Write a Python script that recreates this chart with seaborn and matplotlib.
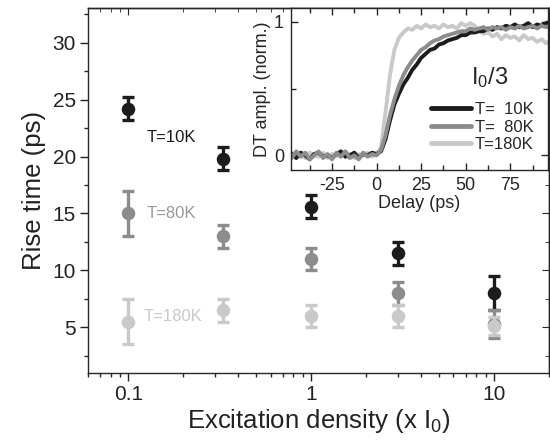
import numpy as np
import pandas as pd
import matplotlib
matplotlib.use("Agg")
import matplotlib.pyplot as plt
from matplotlib.lines import Line2D
from matplotlib.ticker import FixedLocator, NullFormatter, MultipleLocator
import seaborn as sns

# Main panel: rise time vs excitation density
density = [0.1, 0.33, 1, 3, 10]
rise_10K = [24.2, 19.8, 15.6, 11.5, 8.0]
err_10K = [1.0, 1.0, 1.0, 1.0, 1.5]
rise_80K = [15.0, 13.0, 11.0, 8.0, 5.3]
err_80K = [2.0, 1.0, 1.0, 1.0, 1.2]
rise_180K = [5.5, 6.5, 6.0, 6.0, 5.1]
err_180K = [2.0, 1.0, 1.0, 1.0, 0.8]

# Inset: normalised DT traces at I0/3
delay = [-47.5, -45.0, -42.5, -40.0, -37.5, -35.0, -32.5, -30.0, -27.5, -25.0,
         -22.5, -20.0, -17.5, -15.0, -12.5, -10.0, -7.5, -5.0, -2.5, 0.0,
         2.5, 5.0, 7.5, 10.0, 12.5, 15.0, 17.5, 20.0, 22.5, 25.0,
         27.5, 30.0, 32.5, 35.0, 37.5, 40.0, 42.5, 45.0, 47.5, 50.0,
         52.5, 55.0, 57.5, 60.0, 62.5, 65.0, 67.5, 70.0, 72.5, 75.0,
         77.5, 80.0, 82.5, 85.0, 87.5, 90.0, 92.5, 95.0, 97.5]
dt_10K = [0.01, -0.02, 0.02, 0.00, -0.03, 0.01, 0.02, -0.01, 0.00, -0.02,
          0.01, 0.03, -0.01, 0.00, 0.02, -0.02, 0.01, 0.00, 0.02, 0.01,
          0.03, 0.12, 0.26, 0.38, 0.46, 0.53, 0.58, 0.64, 0.68, 0.73,
          0.76, 0.79, 0.80, 0.83, 0.84, 0.86, 0.87, 0.88, 0.90, 0.90,
          0.92, 0.92, 0.93, 0.93, 0.95, 0.94, 0.96, 0.95, 0.97, 0.96,
          0.98, 0.96, 0.97, 0.99, 0.96, 0.98, 0.97, 0.99, 1.00]
dt_80K = [-0.02, 0.03, -0.01, 0.02, -0.03, 0.00, 0.03, -0.02, 0.01, -0.03,
          0.02, -0.01, 0.03, -0.02, 0.00, -0.03, 0.02, -0.01, 0.01, 0.00,
          0.04, 0.15, 0.30, 0.42, 0.52, 0.60, 0.66, 0.71, 0.75, 0.79,
          0.81, 0.84, 0.86, 0.87, 0.89, 0.90, 0.91, 0.92, 0.93, 0.93,
          0.95, 0.94, 0.95, 0.96, 0.94, 0.96, 0.95, 0.96, 0.94, 0.96,
          0.95, 0.97, 0.95, 0.96, 0.97, 0.95, 0.97, 0.96, 0.97]
dt_180K = [0.02, -0.01, 0.01, -0.02, 0.02, 0.00, -0.01, 0.02, -0.02, 0.01,
           0.00, -0.01, 0.02, 0.01, -0.02, 0.01, 0.00, 0.02, -0.01, 0.01,
           0.06, 0.32, 0.60, 0.79, 0.88, 0.92, 0.95, 0.94, 0.97, 0.95,
           0.98, 0.96, 0.97, 0.95, 0.98, 0.96, 0.97, 0.95, 0.99, 0.97,
           0.99, 0.97, 0.93, 0.91, 0.92, 0.89, 0.91, 0.87, 0.90, 0.88,
           0.89, 0.86, 0.90, 0.87, 0.88, 0.85, 0.87, 0.84, 0.86]

labels = ["T=  10K", "T=  80K", "T=180K"]
colors = {"T=  10K": "#1c1c1c", "T=  80K": "#8c8c8c", "T=180K": "#c9c9c9"}

sns.set_style("ticks")
plt.rcParams["font.family"] = ["Liberation Sans", "DejaVu Sans"]
plt.rcParams["mathtext.default"] = "regular"
plt.rcParams["axes.unicode_minus"] = False
plt.rcParams["axes.linewidth"] = 1.0

fig = plt.figure(figsize=(5.5, 4.44), dpi=100)
ax = fig.add_axes([0.1595, 0.16, 0.8385, 0.821])

series = [(rise_10K, err_10K, labels[0]),
          (rise_80K, err_80K, labels[1]),
          (rise_180K, err_180K, labels[2])]
for i, (vals, errs, lab) in enumerate(series):
    c = colors[lab]
    ax.errorbar(density, vals, yerr=errs, fmt="none", ecolor=c,
                elinewidth=2.4, capsize=4.5, capthick=2.4, zorder=2 + i)
    sns.scatterplot(x=density, y=vals, color=c, s=95, linewidth=0,
                    ax=ax, zorder=2.5 + i)

ax.set_xscale("log")
ax.set_xlim(0.06, 20)
ax.set_ylim(1, 33)
ax.xaxis.set_major_locator(FixedLocator([0.1, 1, 10]))
ax.set_xticklabels(["0.1", "1", "10"])
ax.xaxis.set_minor_formatter(NullFormatter())
ax.yaxis.set_major_locator(MultipleLocator(5))
ax.yaxis.set_minor_locator(MultipleLocator(2.5))
ax.tick_params(which="major", direction="out", length=5.5, width=1,
               labelsize=15, pad=3, color="#222222", labelcolor="#222222")
ax.tick_params(which="minor", direction="out", length=3, width=1)

# inward ticks on top and right
top = ax.secondary_xaxis("top")
top.xaxis.set_major_locator(FixedLocator([0.1, 1, 10]))
top.tick_params(which="both", direction="in", labeltop=False)
top.tick_params(which="major", length=5)
top.tick_params(which="minor", length=3)
right = ax.secondary_yaxis("right")
right.yaxis.set_major_locator(MultipleLocator(5))
right.yaxis.set_minor_locator(MultipleLocator(2.5))
right.tick_params(which="both", direction="in", labelright=False)
right.tick_params(which="major", length=5)
right.tick_params(which="minor", length=3)

ax.set_xlabel("Excitation density (x I$_0$)", fontsize=18.5, labelpad=2, color="#222222")
ax.set_ylabel("Rise time (ps)", fontsize=18.5, labelpad=5, color="#222222")

ax.text(0.126, 21.7, "T=10K", fontsize=12, color=colors[labels[0]], va="center")
ax.text(0.126, 15.0, "T=80K", fontsize=12, color="#999999", va="center")
ax.text(0.122, 6.0, "T=180K", fontsize=12, color=colors[labels[2]], va="center")

# Inset
axin = fig.add_axes([0.529, 0.617, 0.467, 0.364])
axin.set_facecolor("white")
inset_df = pd.DataFrame({
    "delay": delay * 3,
    "dt": dt_180K + dt_10K + dt_80K,
    "T": [labels[2]] * len(delay) + [labels[0]] * len(delay) + [labels[1]] * len(delay),
})
sns.lineplot(data=inset_df, x="delay", y="dt", hue="T",
             hue_order=[labels[2], labels[0], labels[1]], palette=colors,
             estimator=None, linewidth=2.8, legend=False, ax=axin)
axin.set_xlim(-48, 96)
axin.set_ylim(-0.11, 1.1)
axin.xaxis.set_major_locator(FixedLocator([-25, 0, 25, 50, 75]))
axin.xaxis.set_minor_locator(MultipleLocator(12.5))
axin.yaxis.set_major_locator(FixedLocator([0, 1]))
axin.yaxis.set_minor_locator(MultipleLocator(0.5))
axin.tick_params(which="both", direction="in", top=True, right=True,
                 labelsize=13, width=1)
axin.tick_params(which="major", length=5, pad=5)
axin.tick_params(which="minor", length=3.5)
axin.set_xlabel("Delay (ps)", fontsize=13, labelpad=1)
axin.set_ylabel("DT ampl. (norm.)", fontsize=13, labelpad=2)
axin.text(53, 0.58, "I$_0$/3", fontsize=17, va="center")

handles = [Line2D([], [], color=colors[l], lw=3.5) for l in labels]
axin.legend(handles, labels, loc="lower right", bbox_to_anchor=(0.97, 0.07),
            frameon=False, fontsize=12, handlelength=2.4, handletextpad=0.25,
            labelspacing=0.15, borderaxespad=0)

fig.savefig("out.png", dpi=100)
